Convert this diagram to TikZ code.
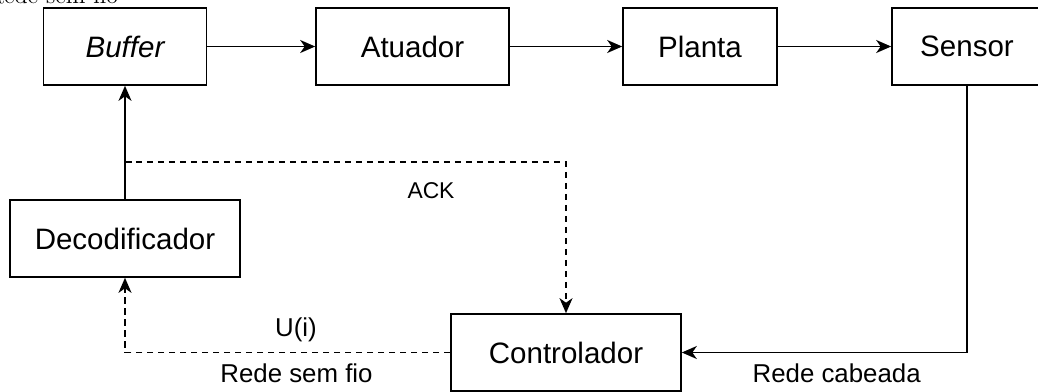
\documentclass[tikz,border=0pt]{standalone}
\usepackage{fontspec}
\newfontfamily\helv{Liberation Sans}
\usetikzlibrary{arrows.meta}

\begin{document}
\begin{tikzpicture}[x=0.02cm,y=-0.02cm,
	bloc/.style={draw,line width=0.95pt,minimum height=1.54cm,inner sep=0pt,font=\helv\fontsize{16.8}{20}\selectfont},
	fleche/.style={line width=0.95pt,-{Stealth[length=0.3cm,width=0.26cm,inset=0.09cm]}},
	pointille/.style={dash pattern=on 0.13cm off 0.09cm},
	etiq/.style={anchor=base,inner sep=0pt,font=\helv\fontsize{14.7}{17}\selectfont}]
	% Cadre
	\useasboundingbox (0,0) rectangle (1038,392);
	% Texte coupe en haut
	\node[anchor=base east,inner sep=0pt,font=\fontsize{13.7}{16}\selectfont] (haut) at (118.5,4) {Rede sem fio};
	% Blocs
	\node[bloc,minimum width=3.26cm] (buffer) at (125,46.5) {\itshape Buffer};
	\node[bloc,minimum width=3.86cm] (atuador) at (412.5,46.5) {Atuador};
	\node[bloc,minimum width=3.08cm] (planta) at (700,46.5) {Planta};
	\node[bloc,minimum width=3.00cm] (sensor) at (967,46.5) {Sensor};
	\node[bloc,minimum width=4.60cm] (decod) at (125,238.5) {Decodificador};
	\node[bloc,minimum width=4.60cm] (contr) at (566,352.5) {Controlador};
	% Liaisons
	\draw[fleche] (buffer) -- (atuador);
	\draw[fleche] (atuador) -- (planta);
	\draw[fleche] (planta) -- (sensor);
	\draw[fleche] (decod) -- (buffer);
	\draw[fleche] (sensor) |- (contr);
	\coordinate (ack) at (125,162);
	\draw[fleche,pointille] (ack) -| (contr);
	\draw[fleche,pointille] (contr) -| (decod);
	% Etiquettes
	\node[etiq,font=\helv\fontsize{13}{15}\selectfont] (lack) at (431,198.3) {ACK};
	\node[etiq] (lui) at (296,336.3) {U(i)};
	\node[etiq] (lsansfil) at (296.5,382) {Rede sem fio};
	\node[etiq] (lcable) at (836.7,382) {Rede cabeada};
\end{tikzpicture}
\end{document}
